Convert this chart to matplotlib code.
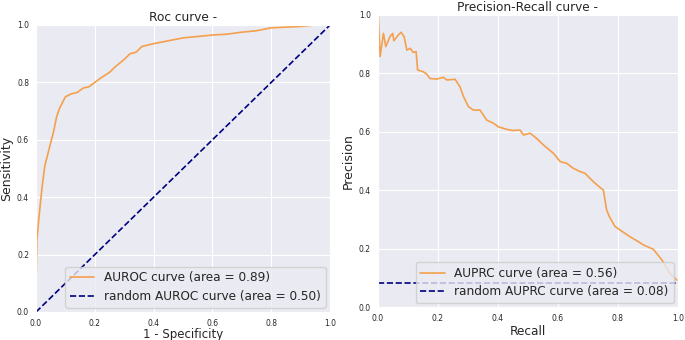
import matplotlib
matplotlib.use("Agg")
import matplotlib.pyplot as plt
import seaborn as sns

sns.set_style("darkgrid")
plt.rcParams['font.family'] = ['DejaVu Sans']

# ROC curve points (false positive rate, true positive rate)
fpr = [0.0, 0.0, 0.003, 0.01, 0.02, 0.03, 0.04, 0.05, 0.06, 0.07, 0.08, 0.09,
       0.10, 0.12, 0.14, 0.16, 0.18, 0.20, 0.22, 0.25, 0.27, 0.30, 0.32, 0.34,
       0.36, 0.40, 0.45, 0.50, 0.55, 0.60, 0.65, 0.70, 0.75, 0.80, 0.90, 0.95, 1.0]
tpr = [0.0, 0.10, 0.25, 0.33, 0.43, 0.51, 0.55, 0.59, 0.63, 0.68, 0.71, 0.73,
       0.75, 0.76, 0.765, 0.78, 0.785, 0.80, 0.815, 0.835, 0.855, 0.88, 0.90, 0.905,
       0.925, 0.935, 0.945, 0.955, 0.96, 0.965, 0.968, 0.975, 0.98, 0.99, 0.995, 1.0, 1.0]

# precision-recall curve points
recall = [0.0, 0.002, 0.008, 0.019, 0.027, 0.041, 0.05, 0.054, 0.069, 0.078, 0.088,
          0.097, 0.108, 0.119, 0.128, 0.133, 0.152, 0.163, 0.174, 0.197, 0.219,
          0.23, 0.258, 0.274, 0.286, 0.302, 0.319, 0.341, 0.352, 0.363, 0.386,
          0.402, 0.43, 0.452, 0.474, 0.486, 0.508, 0.53, 0.552, 0.586, 0.608,
          0.63, 0.652, 0.674, 0.691, 0.719, 0.744, 0.752, 0.763, 0.772, 0.791,
          0.808, 0.841, 0.869, 0.886, 0.919, 0.947, 0.974, 0.997]
precision = [0.83, 1.0, 0.857, 0.936, 0.891, 0.925, 0.936, 0.911, 0.931, 0.94, 0.925,
             0.879, 0.885, 0.871, 0.874, 0.811, 0.805, 0.797, 0.782, 0.78, 0.786,
             0.777, 0.779, 0.754, 0.72, 0.686, 0.674, 0.674, 0.657, 0.64, 0.629,
             0.617, 0.608, 0.604, 0.606, 0.589, 0.595, 0.577, 0.555, 0.526, 0.498,
             0.492, 0.475, 0.464, 0.458, 0.429, 0.407, 0.401, 0.333, 0.31, 0.276,
             0.264, 0.241, 0.224, 0.213, 0.198, 0.162, 0.116, 0.093]

auroc = 0.89
auprc = 0.56
baseline = 0.083

orange = '#f4a04c'

fig = plt.figure(figsize=(6.85, 3.4), dpi=100)
ax1 = fig.add_axes([0.0526, 0.0824, 0.4292, 0.8441])
ax2 = fig.add_axes([0.5514, 0.0962, 0.4380, 0.8606])

ax1.plot(fpr, tpr, color=orange, lw=1.2, label='AUROC curve (area = %0.2f)' % auroc)
ax1.plot([0, 1], [0, 1], color='navy', lw=1.2, ls='--',
         label='random AUROC curve (area = 0.50)')
ax1.set_xlim(0, 1)
ax1.set_ylim(0, 1)
ax1.set_xlabel('1 - Specificity', fontsize=8.5, labelpad=0)
ax1.set_ylabel('Sensitivity', fontsize=9, labelpad=3)
ax1.set_title('Roc curve -', fontsize=8.7, pad=3)
ax1.legend(loc='lower right', fontsize=8.7, borderaxespad=0.35, labelspacing=0.45)

ax2.plot(recall, precision, color=orange, lw=1.2, label='AUPRC curve (area = %0.2f)' % auprc)
ax2.plot([0, 1], [baseline, baseline], color='navy', lw=1.2, ls='--',
         label='random AUPRC curve (area = 0.08)')
ax2.set_xlim(0, 1)
ax2.set_ylim(0, 1)
ax2.set_xlabel('Recall', fontsize=8.7, labelpad=1)
ax2.set_ylabel('Precision', fontsize=9, labelpad=3)
ax2.set_title('Precision-Recall curve -', fontsize=8.7, pad=3)
ax2.legend(loc='lower right', fontsize=8.7, borderaxespad=0.35, labelspacing=0.45)

for ax in (ax1, ax2):
    ax.tick_params(labelsize=5.5, pad=1.5)

fig.savefig('out.png', dpi=100)
